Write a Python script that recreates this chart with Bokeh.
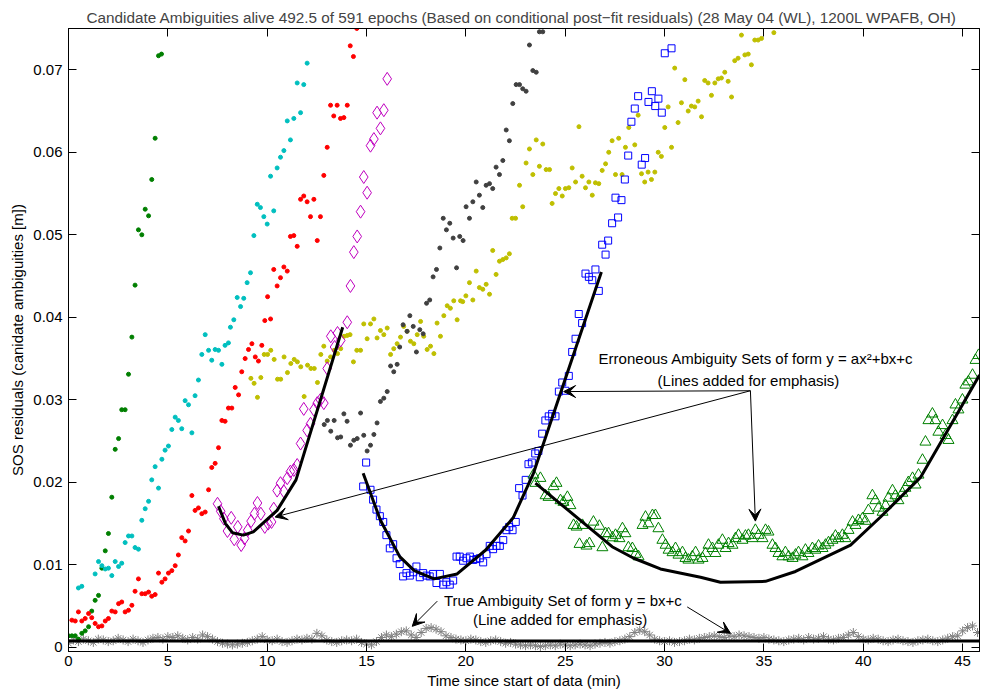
import numpy as np
from bokeh.plotting import figure
from bokeh.models import LinearAxis, FixedTicker, Range1d, Arrow, VeeHead, Label
from bokeh.embed import file_html
from bokeh.resources import INLINE

FONT = "Liberation Sans"

# ---- candidate ambiguity residuals (time in min, SOS residual in m) ----
green_x = [0.0, 0.17, 0.34, 0.50, 0.67, 0.84, 1.01, 1.17, 1.34, 1.51, 1.68, 1.85, 2.01, 2.18, 2.35,
           2.52, 2.68, 2.85, 3.02, 3.19, 3.35, 3.52, 3.69, 3.86, 4.03, 4.19, 4.36, 4.53, 4.68]
green_y = [0.0014, 0.0014, 0.0014, 0.0010, 0.0017, 0.0020, 0.0025, 0.0044, 0.0057, 0.0063, 0.0096,
           0.0117, 0.0138, 0.0182, 0.0240, 0.0253, 0.0288, 0.0288, 0.0331, 0.0376, 0.0439, 0.0506,
           0.0500, 0.0531, 0.0523, 0.0567, 0.0617, 0.0717, 0.0719]

cyan_x = [0.50, 0.67, 1.34, 1.51, 1.68, 1.85, 2.01, 2.18, 2.35, 2.52, 2.68, 2.85, 3.02, 3.19, 3.35,
          3.52, 3.69, 3.86, 4.03, 4.19, 4.36, 4.53, 4.70, 4.86, 5.03, 5.20, 5.37, 5.53, 5.70, 5.87,
          6.04, 6.21, 6.37, 6.54, 6.71, 6.88, 7.05, 7.21, 7.38, 7.55, 7.72, 7.88, 8.05, 8.15, 8.32,
          8.49, 8.66, 8.82, 8.99, 9.16, 9.33, 9.50, 9.66, 9.83, 10.00, 10.17, 10.33, 10.50, 10.67,
          10.84, 11.01, 11.17, 11.34, 11.51, 11.68, 11.84, 12.01]
cyan_y = [0.0072, 0.0074, 0.0089, 0.0104, 0.0099, 0.0095, 0.0096, 0.0087, 0.0104, 0.0098, 0.0102,
          0.0127, 0.0135, 0.0135, 0.0121, 0.0119, 0.0154, 0.0168, 0.0177, 0.0203, 0.0219, 0.0193,
          0.0228, 0.0239, 0.0244, 0.0264, 0.0279, 0.0275, 0.0265, 0.0299, 0.0294, 0.0260, 0.0305,
          0.0324, 0.0355, 0.0379, 0.0360, 0.0348, 0.0361, 0.0360, 0.0343, 0.0366, 0.0369, 0.0388,
          0.0397, 0.0424, 0.0413, 0.0423, 0.0442, 0.0454, 0.0499, 0.0537, 0.0533, 0.0522, 0.0513,
          0.0571, 0.0529, 0.0581, 0.0594, 0.0602, 0.0638, 0.0615, 0.0641, 0.0684, 0.0648, 0.0682,
          0.0708]

red_x = [0.17, 0.34, 0.50, 0.67, 0.84, 1.01, 1.17, 1.34, 1.51, 1.68, 1.85, 2.01, 2.18, 2.35, 2.52,
         2.68, 2.85, 3.02, 3.19, 3.35, 3.52, 3.69, 3.86, 4.03, 4.19, 4.36, 4.53, 4.70, 4.86, 5.03,
         5.20, 5.37, 5.53, 5.70, 5.87, 6.04, 6.21, 6.37, 6.54, 6.71, 6.88, 7.05, 7.21, 7.38, 7.55,
         7.72, 7.88, 8.05, 8.22, 8.39, 8.56, 8.72, 8.89, 9.06, 9.23, 9.40, 9.56, 9.73, 9.88, 10.02,
         10.17, 10.33, 10.50, 10.67, 10.84, 11.01, 11.17, 11.34, 11.51, 11.68, 11.84, 12.01, 12.18,
         12.35, 12.52, 12.68, 12.85, 13.02, 13.19, 13.35, 13.52, 13.69, 13.86, 14.03, 14.18, 14.34,
         14.51]
red_y = [0.0033, 0.0032, 0.0043, 0.0032, 0.0035, 0.0041, 0.0036, 0.0029, 0.0025, 0.0026, 0.0032,
         0.0035, 0.0044, 0.0043, 0.0053, 0.0055, 0.0043, 0.0045, 0.0051, 0.0068, 0.0083, 0.0065,
         0.0065, 0.0067, 0.0062, 0.0064, 0.0090, 0.0079, 0.0083, 0.0090, 0.0093, 0.0099, 0.0112,
         0.0133, 0.0129, 0.0141, 0.0184, 0.0166, 0.0169, 0.0162, 0.0164, 0.0191, 0.0218, 0.0223,
         0.0242, 0.0275, 0.0274, 0.0290, 0.0290, 0.0315, 0.0306, 0.0334, 0.0350, 0.0361, 0.0368,
         0.0352, 0.0347, 0.0366, 0.0396, 0.0425, 0.0398, 0.0458, 0.0438, 0.0448, 0.0461, 0.0456,
         0.0498, 0.0499, 0.0486, 0.0543, 0.0547, 0.0540, 0.0522, 0.0543, 0.0493, 0.0522, 0.0572,
         0.0606, 0.0657, 0.0644, 0.0657, 0.0641, 0.0642, 0.0657, 0.0729, 0.0716, 0.0750]

magenta_x = [7.50, 7.66, 7.82, 8.00, 8.19, 8.34, 8.52, 8.69, 8.86, 9.02, 9.19, 9.36, 9.51, 9.68, 9.88,
             10.05, 10.22, 10.33, 10.50, 10.67, 10.84, 11.01, 11.17, 11.34, 11.51, 11.68, 11.84,
             12.01, 12.18, 12.35, 12.52, 12.68, 12.85, 13.02, 13.20, 13.39, 13.54, 13.70, 14.03,
             14.19, 14.36, 14.53, 14.70, 14.86, 15.03, 15.20, 15.37, 15.53, 15.70, 15.87, 16.04]
magenta_y = [0.0174, 0.0165, 0.0156, 0.0141, 0.0157, 0.0131, 0.0146, 0.0124, 0.0132, 0.0142, 0.0153,
             0.0162, 0.0175, 0.0162, 0.0146, 0.0150, 0.0152, 0.0168, 0.0190, 0.0199, 0.0189, 0.0205,
             0.0213, 0.0215, 0.0221, 0.0247, 0.0289, 0.0263, 0.0271, 0.0288, 0.0296, 0.0300, 0.0296,
             0.0338, 0.0377, 0.0364, 0.0381, 0.0372, 0.0394, 0.0438, 0.0479, 0.0498, 0.0528, 0.0570,
             0.0551, 0.0608, 0.0616, 0.0648, 0.0629, 0.0651, 0.0689]

olive_x = [9.18, 9.34, 9.51, 9.68, 9.85, 10.02, 10.18, 10.35, 10.52, 10.68, 10.85, 11.02, 11.19,
           11.36, 11.52, 11.69, 11.86, 12.03, 12.20, 12.37, 12.53, 12.70, 12.85, 13.02, 13.19, 13.37,
           13.54, 13.70, 13.87, 14.03, 14.17, 14.34, 14.51, 14.70, 14.86, 15.03, 15.20, 15.37, 15.53,
           15.70, 15.87, 16.04, 16.21, 16.37, 16.54, 16.71, 16.87, 17.04, 17.21, 17.38, 17.55, 17.72,
           17.88, 18.05, 18.22, 18.39, 18.55, 18.72, 18.89, 19.06, 19.22, 19.39, 19.56, 19.73, 19.84,
           20.00, 20.18, 20.35, 20.52, 20.68, 20.85, 21.02, 21.19, 21.35, 21.52, 21.69, 21.86, 22.03,
           22.19, 22.33, 22.50, 22.70, 22.86, 23.03, 23.20, 23.37, 23.54, 23.70, 23.87, 24.04, 24.21,
           24.34, 24.51, 24.68, 24.85, 25.01, 25.18, 25.35, 25.52, 25.69, 25.85, 26.02, 26.19, 26.36,
           26.52, 26.69, 26.86, 27.03, 27.19, 27.36, 27.53, 27.69, 27.86, 28.03, 28.20, 28.50, 28.67,
           28.84, 29.00, 29.17, 29.34, 29.51, 29.68, 29.84, 30.01, 30.18, 30.35, 30.51, 30.68, 30.85,
           31.02, 31.19, 31.35, 31.52, 31.69, 31.86, 32.02, 32.19, 32.36, 32.53, 32.70, 32.86, 33.03,
           33.20, 33.37, 33.53, 33.70, 33.87, 34.04, 34.21, 34.37, 34.54, 34.71, 34.88, 35.50]
olive_y = [0.0326, 0.0320, 0.0303, 0.0327, 0.0355, 0.0355, 0.0360, 0.0349, 0.0325, 0.0325, 0.0352,
           0.0333, 0.0344, 0.0349, 0.0346, 0.0340, 0.0304, 0.0342, 0.0338, 0.0338, 0.0321, 0.0355,
           0.0365, 0.0347, 0.0352, 0.0360, 0.0356, 0.0362, 0.0377, 0.0378, 0.0379, 0.0346, 0.0360,
           0.0360, 0.0392, 0.0374, 0.0392, 0.0398, 0.0375, 0.0384, 0.0379, 0.0387, 0.0355, 0.0362,
           0.0368, 0.0376, 0.0389, 0.0383, 0.0371, 0.0368, 0.0379, 0.0395, 0.0377, 0.0361, 0.0365,
           0.0356, 0.0393, 0.0377, 0.0402, 0.0414, 0.0411, 0.0420, 0.0397, 0.0420, 0.0419, 0.0426,
           0.0442, 0.0421, 0.0456, 0.0436, 0.0434, 0.0440, 0.0428, 0.0481, 0.0452, 0.0468, 0.0470,
           0.0472, 0.0477, 0.0520, 0.0520, 0.0560, 0.0534, 0.0587, 0.0604, 0.0573, 0.0615, 0.0583,
           0.0610, 0.0579, 0.0579, 0.0538, 0.0550, 0.0556, 0.0547, 0.0556, 0.0557, 0.0581, 0.0564,
           0.0631, 0.0571, 0.0557, 0.0564, 0.0548, 0.0563, 0.0562, 0.0578, 0.0586, 0.0600, 0.0614,
           0.0573, 0.0617, 0.0573, 0.0606, 0.0630, 0.0609, 0.0645, 0.0574, 0.0564, 0.0576, 0.0567,
           0.0576, 0.0600, 0.0595, 0.0630, 0.0655, 0.0606, 0.0702, 0.0636, 0.0660, 0.0688, 0.0650,
           0.0656, 0.0655, 0.0662, 0.0643, 0.0687, 0.0684, 0.0669, 0.0684, 0.0689, 0.0690, 0.0697,
           0.0686, 0.0667, 0.0711, 0.0714, 0.0742, 0.0718, 0.0719, 0.0706, 0.0736, 0.0736, 0.0738,
           0.0745]

dgray_x = [12.87, 13.03, 13.20, 13.37, 13.54, 13.70, 13.86, 14.02, 14.19, 14.36, 14.53, 14.70, 14.86,
           15.03, 15.20, 15.37, 15.53, 15.70, 15.87, 16.04, 16.21, 16.37, 16.54, 16.67, 16.84, 17.04,
           17.18, 17.35, 17.51, 17.68, 17.85, 18.02, 18.18, 18.35, 18.52, 18.69, 18.86, 19.02, 19.19,
           19.36, 19.53, 19.69, 19.86, 20.01, 20.18, 20.35, 20.52, 20.68, 20.85, 21.02, 21.19, 21.35,
           21.52, 21.69, 21.86, 22.03, 22.19, 22.36, 22.53, 22.70, 22.86, 23.03, 23.20, 23.37, 23.54,
           23.70, 23.87]
dgray_y = [0.0270, 0.0275, 0.0262, 0.0275, 0.0254, 0.0255, 0.0283, 0.0274, 0.0245, 0.0251, 0.0253,
           0.0284, 0.0257, 0.0238, 0.0245, 0.0258, 0.0272, 0.0298, 0.0302, 0.0310, 0.0341, 0.0334,
           0.0343, 0.0364, 0.0391, 0.0383, 0.0402, 0.0389, 0.0358, 0.0385, 0.0380, 0.0417, 0.0421,
           0.0449, 0.0458, 0.0484, 0.0520, 0.0506, 0.0514, 0.0496, 0.0460, 0.0498, 0.0493, 0.0534,
           0.0520, 0.0540, 0.0564, 0.0548, 0.0533, 0.0560, 0.0562, 0.0556, 0.0582, 0.0573, 0.0590,
           0.0627, 0.0614, 0.0659, 0.0682, 0.0682, 0.0677, 0.0674, 0.0730, 0.0699, 0.0697, 0.0746,
           0.0746]

blue_x = [14.83, 14.98, 15.20, 15.33, 15.50, 15.67, 15.84, 16.00, 16.17, 16.34, 16.51, 16.67, 16.84,
          17.01, 17.18, 17.35, 17.51, 17.68, 17.85, 18.02, 18.18, 18.35, 18.52, 18.69, 18.86, 19.02,
          19.19, 19.36, 19.53, 19.69, 19.86, 20.03, 20.20, 20.37, 20.53, 20.70, 20.87, 21.04, 21.20,
          21.37, 21.54, 21.71, 21.88, 22.04, 22.18, 22.35, 22.51, 22.68, 22.85, 23.01, 23.15, 23.32,
          23.49, 23.65, 23.84, 24.00, 24.17, 24.34, 24.51, 24.68, 24.85, 25.01, 25.18, 25.35, 25.52,
          25.68, 25.85, 26.02, 26.19, 26.36, 26.52, 26.69, 26.86, 27.03, 27.16, 27.36, 27.53, 27.66,
          27.83, 28.00, 28.17, 28.33, 28.50, 28.67, 28.85, 29.02, 29.19, 29.36, 29.53, 29.69, 29.86,
          30.01, 30.35]
blue_y = [0.0195, 0.0224, 0.0191, 0.0179, 0.0167, 0.0159, 0.0152, 0.0136, 0.0120, 0.0125, 0.0108,
          0.0101, 0.0086, 0.0090, 0.0087, 0.0091, 0.0098, 0.0085, 0.0090, 0.0087, 0.0086, 0.0089,
          0.0078, 0.0089, 0.0076, 0.0079, 0.0076, 0.0081, 0.0110, 0.0110, 0.0105, 0.0108, 0.0110,
          0.0106, 0.0107, 0.0108, 0.0103, 0.0113, 0.0123, 0.0119, 0.0123, 0.0123, 0.0130, 0.0142,
          0.0146, 0.0142, 0.0152, 0.0193, 0.0184, 0.0203, 0.0222, 0.0224, 0.0235, 0.0238, 0.0259,
          0.0275, 0.0280, 0.0283, 0.0280, 0.0310, 0.0321, 0.0311, 0.0329, 0.0358, 0.0374, 0.0404,
          0.0393, 0.0453, 0.0449, 0.0445, 0.0458, 0.0432, 0.0488, 0.0476, 0.0493, 0.0514, 0.0545,
          0.0521, 0.0542, 0.0567, 0.0596, 0.0637, 0.0653, 0.0668, 0.0585, 0.0593, 0.0661, 0.0674,
          0.0656, 0.0665, 0.0648, 0.0720, 0.0726]

tri_x = [23.40, 23.50, 23.75, 24.01, 24.16, 24.41, 24.56, 24.76, 24.91, 25.11, 25.26, 25.42, 25.57,
         25.72, 25.87, 26.07, 26.22, 26.42, 26.72, 26.87, 27.03, 27.18, 27.38, 27.53, 27.73, 27.88,
         28.03, 28.18, 28.38, 28.54, 28.69, 28.89, 29.04, 29.19, 29.39, 29.54, 29.69, 29.89, 30.05,
         30.20, 30.40, 30.55, 30.70, 30.90, 31.05, 31.20, 31.40, 31.56, 31.71, 31.91, 32.06, 32.21,
         32.41, 32.56, 32.71, 32.91, 33.07, 33.22, 33.42, 33.57, 33.72, 33.92, 34.07, 34.22, 34.42,
         34.57, 34.73, 34.93, 35.08, 35.23, 35.43, 35.58, 35.73, 35.93, 36.08, 36.24, 36.44, 36.59,
         36.74, 36.94, 37.09, 37.24, 37.44, 37.59, 37.75, 37.95, 38.10, 38.25, 38.45, 38.60, 38.75,
         38.95, 39.10, 39.26, 39.46, 39.61, 39.76, 39.96, 40.11, 40.26, 40.46, 40.61, 40.77, 40.97,
         41.12, 41.27, 41.47, 41.62, 41.77, 41.97, 42.12, 42.27, 42.48, 42.63, 42.78, 42.98, 43.13,
         43.28, 43.48, 43.63, 43.78, 43.99, 44.14, 44.29, 44.49, 44.64, 44.79, 44.99, 45.14, 45.29,
         45.50, 45.65, 45.80]
tri_y = [0.0209, 0.0199, 0.0205, 0.0184, 0.0182, 0.0195, 0.0199, 0.0178, 0.0176, 0.0182, 0.0172,
         0.0148, 0.0146, 0.0125, 0.0148, 0.0123, 0.0126, 0.0152, 0.0147, 0.0121, 0.0138, 0.0138,
         0.0133, 0.0136, 0.0132, 0.0144, 0.0138, 0.0121, 0.0120, 0.0113, 0.0110, 0.0148, 0.0158,
         0.0150, 0.0160, 0.0160, 0.0144, 0.0130, 0.0124, 0.0118, 0.0115, 0.0120, 0.0112, 0.0115,
         0.0108, 0.0106, 0.0110, 0.0115, 0.0106, 0.0108, 0.0114, 0.0124, 0.0120, 0.0114, 0.0124,
         0.0130, 0.0120, 0.0126, 0.0124, 0.0132, 0.0136, 0.0130, 0.0135, 0.0136, 0.0132, 0.0142,
         0.0136, 0.0132, 0.0142, 0.0140, 0.0124, 0.0120, 0.0114, 0.0110, 0.0115, 0.0110, 0.0108,
         0.0112, 0.0115, 0.0110, 0.0118, 0.0114, 0.0120, 0.0118, 0.0123, 0.0120, 0.0124, 0.0127,
         0.0130, 0.0135, 0.0132, 0.0136, 0.0132, 0.0142, 0.0152, 0.0148, 0.0154, 0.0156, 0.0153,
         0.0166, 0.0184, 0.0178, 0.0169, 0.0164, 0.0172, 0.0181, 0.0190, 0.0184, 0.0178, 0.0187,
         0.0193, 0.0200, 0.0205, 0.0197, 0.0209, 0.0227, 0.0249, 0.0275, 0.0283, 0.0275, 0.0261,
         0.0269, 0.0257, 0.0251, 0.0275, 0.0294, 0.0288, 0.0300, 0.0318, 0.0322, 0.0330, 0.0348,
         0.0354]

# true ambiguity set: residuals in mm, every 0.25 min
gray_y_mm = [0.5, 0.9, 0.7, 1.0, 0.8, 0.6, 1.0, 0.9, 0.7, 0.8, 1.1, 0.9, 0.7, 1.0, 0.8, 0.6, 0.9, 1.1, 1.2, 1.0,
             1.3, 1.2, 1.4, 1.1, 0.9, 1.2, 1.0, 1.5, 1.3, 1.0, 0.7, 0.5, 0.4, 0.3, 0.4, 0.5, 0.6, 0.8, 1.0, 1.3,
             0.9, 0.8, 1.0, 0.7, 0.6, 0.8, 1.0, 0.9, 1.1, 1.0, 1.7, 1.4, 0.9, 0.7, 0.6, 0.8, 0.9, 0.8, 1.0, 0.6,
             0.4, 0.3, 0.7, 1.2, 1.5, 1.3, 1.6, 1.9, 2.0, 1.5, 1.2, 1.8, 2.3, 2.4, 2.2, 1.9, 1.4, 1.2, 1.0, 0.9,
             0.8, 1.0, 0.9, 0.7, 0.6, 0.8, 0.9, 0.7, 0.5, 0.6, 0.4, 0.3, 0.2, 0.3, 0.2, 0.1, 0.2, 0.3, 0.2, 0.4,
             0.3, 0.2, 0.3, 0.4, 0.3, 0.2, 0.4, 0.5, 0.6, 0.5, 0.7, 0.8, 1.0, 1.3, 1.8, 2.1, 1.9, 1.5, 1.0, 0.8,
             0.7, 0.8, 0.6, 0.7, 0.8, 1.0, 0.9, 1.1, 1.2, 1.3, 1.4, 1.3, 1.2, 1.4, 1.3, 1.5, 1.4, 1.3, 1.2, 1.1,
             1.2, 1.0, 0.9, 0.8, 0.7, 0.9, 1.0, 1.1, 0.9, 1.2, 1.0, 1.1, 1.3, 1.0, 0.9, 1.1, 1.2, 1.5, 1.8, 1.3,
             1.0, 0.9, 1.1, 1.0, 0.8, 0.7, 0.9, 1.0, 0.8, 0.7, 0.6, 0.8, 0.9, 1.0, 0.8, 0.7, 0.9, 1.1, 1.3, 1.4,
             2.0, 2.4, 2.6, 1.8]
gray_t = np.arange(len(gray_y_mm)) * 0.25
gray_y = np.array(gray_y_mm) * 1e-3

# emphasis lines
fitA_x = [7.55, 7.90, 8.25, 8.80, 9.30, 9.90, 10.50, 11.45, 13.80]
fitA_y = [0.0171, 0.0150, 0.0139, 0.0136, 0.0140, 0.0153, 0.0166, 0.0203, 0.0388]
fitB_x = [14.83, 15.70, 16.67, 17.40, 18.40, 19.56, 21.00, 22.38, 23.40, 26.82]
fitB_y = [0.0211, 0.0154, 0.0110, 0.0093, 0.0083, 0.0089, 0.0118, 0.0157, 0.0211, 0.0455]
fitC_x = [23.50, 24.76, 27.36, 28.45, 29.79, 31.81, 32.81, 35.08, 36.59, 39.36, 40.87, 42.88, 44.39, 45.85]
fitC_y = [0.0199, 0.0174, 0.0122, 0.0108, 0.0095, 0.0085, 0.0079, 0.0080, 0.0092, 0.0124, 0.0158,
          0.0206, 0.0269, 0.0330]
true_x = [0.0, 45.85]
true_y = [0.00076, 0.00076]

x_ticks = [0, 5, 10, 15, 20, 25, 30, 35, 40, 45]
y_ticks = [0, 0.01, 0.02, 0.03, 0.04, 0.05, 0.06, 0.07]
y_tick_labels = ["0", "0.01", "0.02", "0.03", "0.04", "0.05", "0.06", "0.07"]

p = figure(width=981, height=693, x_range=Range1d(0, 45.85), y_range=Range1d(-0.0005, 0.075),
           output_backend="svg", toolbar_location=None,
           min_border_left=68, min_border_right=2, min_border_top=28, min_border_bottom=42,
           title="Candidate Ambiguities alive 492.5 of 591 epochs (Based on conditional post\u2212fit residuals)  (28 May 04 (WL), 1200L WPAFB, OH)")
p.title.text_font = FONT
p.title.text_font_size = "15.3px"
p.title.text_font_style = "normal"
p.title.align = "center"
p.title.standoff = 6
p.xgrid.visible = False
p.ygrid.visible = False
p.outline_line_color = "black"
p.outline_line_width = 1
p.background_fill_color = "white"
p.border_fill_color = "white"

for ax in (p.xaxis[0], p.yaxis[0]):
    ax.major_tick_in = 8
    ax.major_tick_out = 0
    ax.minor_tick_line_color = None
    ax.axis_line_color = "black"
    ax.major_tick_line_color = "black"
    ax.major_label_text_font = FONT
    ax.major_label_text_font_size = "15px"
    ax.major_label_text_color = "black"
    ax.axis_label_text_font = FONT
    ax.axis_label_text_font_size = "15px"
    ax.axis_label_text_font_style = "normal"
    ax.axis_label_text_color = "black"
p.xaxis.ticker = FixedTicker(ticks=x_ticks)
p.yaxis.ticker = FixedTicker(ticks=y_ticks)
p.yaxis.major_label_overrides = dict(zip(y_ticks, y_tick_labels))
p.xaxis.axis_label = "Time since start of data (min)"
p.yaxis.axis_label = "SOS residuals (canidate ambiguities [m])"
p.xaxis.major_label_standoff = 4
p.xaxis.axis_label_standoff = 3
p.yaxis.major_label_standoff = 6
p.yaxis.axis_label_standoff = 4

# box axes on top and right: inward ticks only
for loc, ticks in (("above", x_ticks), ("right", y_ticks)):
    ax = LinearAxis(ticker=FixedTicker(ticks=ticks), major_label_text_font_size="0px",
                    major_tick_in=8, major_tick_out=0, minor_tick_line_color=None,
                    major_label_standoff=0, axis_line_color="black")
    p.add_layout(ax, loc)

# data series
p.scatter(gray_t, gray_y, marker="asterisk", size=9, line_color="#808080", line_width=1)
p.scatter(green_x, green_y, marker="circle", size=4, color="#007f00")
p.scatter(cyan_x, cyan_y, marker="circle", size=4, color="#00bfbf")
p.scatter(red_x, red_y, marker="circle", size=4, color="#ff0000")
p.scatter(olive_x, olive_y, marker="circle", size=4, color="#bfbf00")
p.scatter(dgray_x, dgray_y, marker="circle", size=4, color="#404040")
p.scatter(magenta_x, magenta_y, marker="diamond", size=13, line_color="#bf00bf", fill_color=None, line_width=1)
p.scatter(blue_x, blue_y, marker="square", size=7, line_color="#0000ff", fill_color=None, line_width=1)
p.scatter(tri_x, tri_y, marker="triangle", size=11, line_color="#008000", fill_color=None, line_width=1)

for fx, fy in ((fitA_x, fitA_y), (fitB_x, fitB_y), (fitC_x, fitC_y), (true_x, true_y)):
    p.line(fx, fy, line_color="black", line_width=3)

# annotations
err_origin = (34.32, 0.0311)
err_targets = [(24.92, 0.0310), (10.40, 0.0158), (34.57, 0.0153)]
for tx, ty in err_targets:
    p.add_layout(Arrow(end=VeeHead(size=12, fill_color="black", line_color="black"),
                       x_start=err_origin[0], y_start=err_origin[1], x_end=tx, y_end=ty,
                       line_color="black", line_width=1))
true_arrows = [((18.56, 0.0056), (17.30, 0.00255)), ((31.14, 0.0049), (33.32, 0.0017))]
for (sx, sy), (tx, ty) in true_arrows:
    p.add_layout(Arrow(end=VeeHead(size=12, fill_color="black", line_color="black"),
                       x_start=sx, y_start=sy, x_end=tx, y_end=ty,
                       line_color="black", line_width=1))

texts = [
    (34.60, 0.03506, "Erroneous Ambiguity Sets of form y = ax\u00b2+bx+c"),
    (34.22, 0.0324, "(Lines added for emphasis)"),
    (24.90, 0.00562, "True Ambiguity Set of form y = bx+c"),
    (24.74, 0.00336, "(Line added for emphasis)"),
]
for tx, ty, t in texts:
    p.add_layout(Label(x=tx, y=ty, text=t, text_align="center", text_baseline="middle",
                       text_font=FONT, text_font_size="15px", text_color="black",
                       background_fill_color=None))

open("out.html", "w").write(file_html(p, INLINE))
